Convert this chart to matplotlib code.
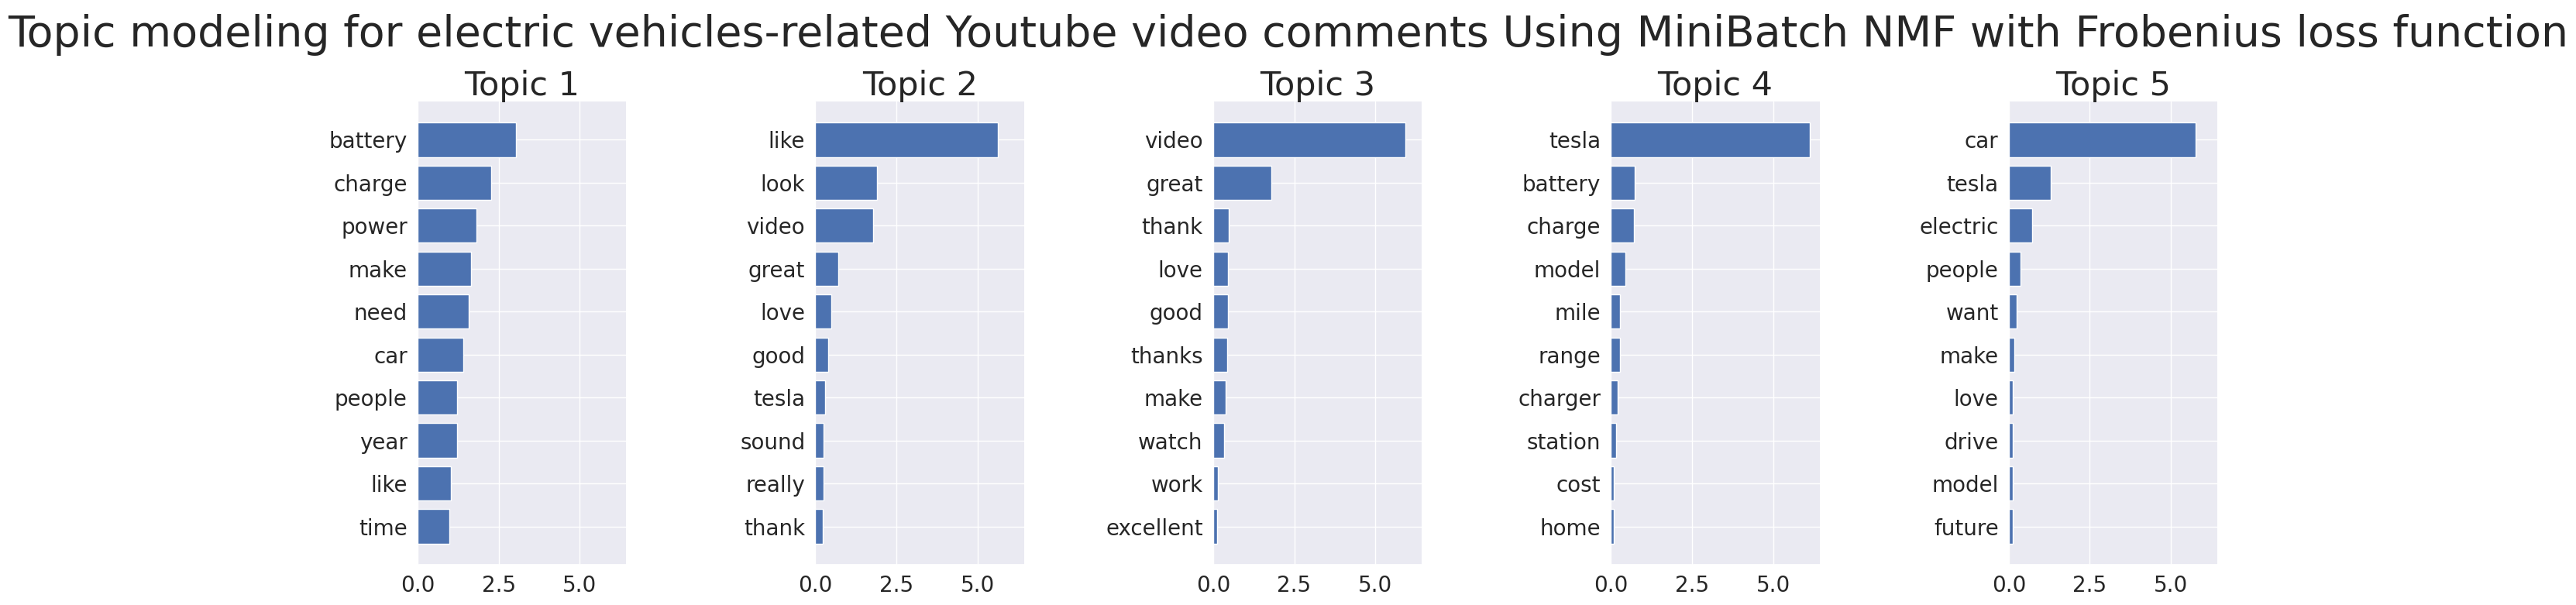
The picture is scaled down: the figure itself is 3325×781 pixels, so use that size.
import matplotlib
matplotlib.use("Agg")
import matplotlib.pyplot as plt
import seaborn as sns

sns.set_theme()

title = ("Topic modeling for electric vehicles-related Youtube video comments "
         "Using MiniBatch NMF with Frobenius loss function")

topic1_words = ["battery", "charge", "power", "make", "need", "car", "people", "year", "like", "time"]
topic1_weights = [3.04, 2.28, 1.82, 1.65, 1.59, 1.40, 1.21, 1.21, 1.02, 0.99]

topic2_words = ["like", "look", "video", "great", "love", "good", "tesla", "sound", "really", "thank"]
topic2_weights = [5.63, 1.90, 1.79, 0.71, 0.48, 0.40, 0.30, 0.25, 0.25, 0.23]

topic3_words = ["video", "great", "thank", "love", "good", "thanks", "make", "watch", "work", "excellent"]
topic3_weights = [5.93, 1.79, 0.47, 0.45, 0.45, 0.42, 0.38, 0.33, 0.14, 0.11]

topic4_words = ["tesla", "battery", "charge", "model", "mile", "range", "charger", "station", "cost", "home"]
topic4_weights = [6.13, 0.73, 0.70, 0.44, 0.27, 0.27, 0.20, 0.15, 0.08, 0.08]

topic5_words = ["car", "tesla", "electric", "people", "want", "make", "love", "drive", "model", "future"]
topic5_weights = [5.76, 1.30, 0.73, 0.37, 0.25, 0.18, 0.13, 0.13, 0.11, 0.11]

topics = [
    (topic1_words, topic1_weights),
    (topic2_words, topic2_weights),
    (topic3_words, topic3_weights),
    (topic4_words, topic4_weights),
    (topic5_words, topic5_weights),
]

fig, axes = plt.subplots(1, 5, figsize=(33.25, 7.81), dpi=100, sharex=True)

for topic_idx, (words, weights) in enumerate(topics):
    ax = axes[topic_idx]
    ax.barh(words, weights, height=0.8)
    ax.set_title(f"Topic {topic_idx + 1}", fontsize=31)
    ax.invert_yaxis()
    ax.tick_params(axis="both", which="major", labelsize=20)
    for side in "top right left".split():
        ax.spines[side].set_visible(False)

fig.suptitle(title, fontsize=40, va="baseline", y=0.923)
plt.subplots_adjust(left=0.1621, right=0.8608, top=0.8323, bottom=0.0666, wspace=0.907)
plt.savefig("out.png", dpi=100)
